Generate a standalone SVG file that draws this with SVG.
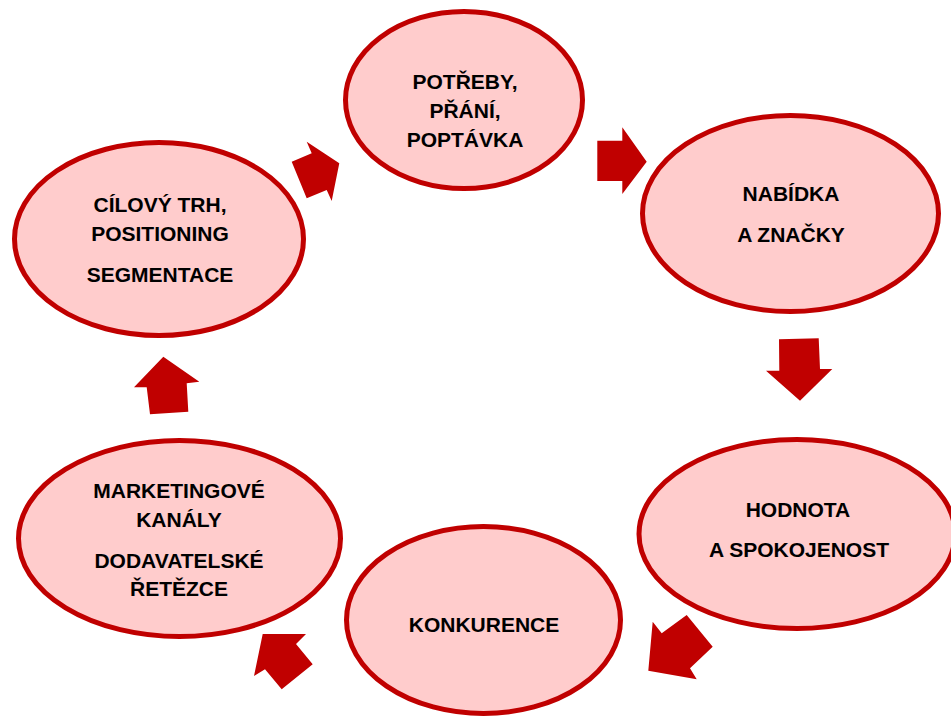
<svg xmlns="http://www.w3.org/2000/svg" width="951" height="725" viewBox="0 0 951 725">
  <style>
    .node ellipse { fill: #FFCCCC; stroke: #C00000; stroke-width: 5; }
    .node text { font-family: "Liberation Sans", Arial, sans-serif; font-weight: bold; font-size: 21px; fill: #000; text-anchor: middle; }
    .arrow { fill: #C00000; stroke: none; }
  </style>
  <rect width="951" height="725" fill="#FFFFFF"/>

  <g id="node-potreby" class="node">
    <ellipse cx="464" cy="100" rx="118.5" ry="88.5"/>
    <text x="465" y="89">POTŘEBY,</text>
    <text x="465" y="118">PŘÁNÍ,</text>
    <text x="465" y="147">POPTÁVKA</text>
  </g>

  <g id="node-nabidka" class="node">
    <ellipse cx="790.5" cy="213.5" rx="148" ry="98"/>
    <text x="791" y="201">NABÍDKA</text>
    <text x="791" y="242">A ZNAČKY</text>
  </g>

  <g id="node-hodnota" class="node">
    <ellipse cx="797" cy="534" rx="158" ry="94.5"/>
    <text x="798" y="517">HODNOTA</text>
    <text x="799" y="557">A SPOKOJENOST</text>
  </g>

  <g id="node-konkurence" class="node">
    <ellipse cx="483.5" cy="620" rx="137" ry="93.5"/>
    <text x="484" y="632">KONKURENCE</text>
  </g>

  <g id="node-kanaly" class="node">
    <ellipse cx="179.5" cy="538.5" rx="161" ry="98"/>
    <text x="179" y="498">MARKETINGOVÉ</text>
    <text x="179" y="527">KANÁLY</text>
    <text x="179" y="568">DODAVATELSKÉ</text>
    <text x="179" y="596">ŘETĚZCE</text>
  </g>

  <g id="node-cilovy-trh" class="node">
    <ellipse cx="159" cy="239" rx="144.5" ry="96.5"/>
    <text x="160" y="212">CÍLOVÝ TRH,</text>
    <text x="160" y="241">POSITIONING</text>
    <text x="160" y="282">SEGMENTACE</text>
  </g>

  <g id="connectors">
    <!-- target market -> needs -->
    <polygon class="arrow" points="306.7,141.7 311.7,153.3 291.7,161.7 306.7,198.3 326.7,190 331.7,201 339.3,163.3"/>
    <!-- needs -> offer -->
    <polygon class="arrow" points="597.3,140.7 622.3,140.7 622.3,127.3 646.7,161.7 622.3,194 622.3,181 597.3,181"/>
    <!-- offer -> value -->
    <polygon class="arrow" points="779,339.3 818.7,338.3 820,369 832.3,369 800,400.7 766,370.7 779.3,370.7"/>
    <!-- value -> competition -->
    <polygon class="arrow" points="652.7,621.7 661.7,633.3 686.7,615 712.7,646.7 690,668.3 696.7,679.3 648.3,670.7"/>
    <!-- competition -> channels -->
    <polygon class="arrow" points="262.7,634 306,634 296,644 312.7,664.3 281.7,689.3 265,669.3 254,676"/>
    <!-- channels -> target market -->
    <polygon class="arrow" points="163.3,356.7 199.3,381.7 186.7,383.3 188.3,411.7 150,414.3 146.7,387.3 134,387.3"/>
  </g>
</svg>
